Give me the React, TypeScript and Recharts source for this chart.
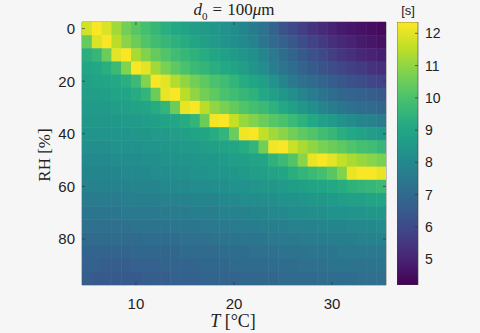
import { ScatterChart, Scatter, XAxis, YAxis, ReferenceArea, BarChart, Bar } from 'recharts';

// grid columns (temperature, °C) and rows (relative humidity, %)
const tempC = [5, 6, 7, 8, 9, 10, 11, 12, 13, 14, 15, 16, 17, 18, 19, 20, 21, 22, 23, 24, 25, 26, 27, 28, 29, 30, 31, 32, 33, 34, 35];
const rhLevels = [0, 5, 10, 15, 20, 25, 30, 35, 40, 45, 50, 55, 60, 65, 70, 75, 80, 85, 90, 95];

// time [s], one list per RH row, T = 5..35
const rh0 = [11.8, 12.3, 11.9, 11.2, 10.6, 10.2, 9.9, 9.6, 9.3, 9.1, 8.9, 8.7, 8.6, 8.5, 8.3, 8.1, 7.9, 7.6, 7.3, 6.8, 6.3, 6.0, 5.7, 5.4, 5.2, 5.0, 4.8, 4.7, 4.6, 4.5, 4.4];
const rh5 = [10.4, 11.9, 12.3, 11.5, 10.9, 10.5, 10.1, 9.8, 9.6, 9.4, 9.2, 9.0, 8.8, 8.6, 8.4, 8.2, 8.0, 7.8, 7.4, 7.0, 6.7, 6.4, 6.1, 5.8, 5.6, 5.3, 5.1, 5.0, 4.8, 4.7, 4.6];
const rh10 = [9.3, 9.6, 10.5, 12.0, 12.3, 11.3, 10.8, 10.4, 10.1, 9.8, 9.6, 9.4, 9.2, 9.0, 8.8, 8.6, 8.4, 8.2, 7.9, 7.5, 7.1, 6.8, 6.5, 6.2, 6.0, 5.7, 5.5, 5.3, 5.1, 5.0, 4.9];
const rh15 = [9.0, 9.1, 9.3, 9.7, 10.8, 12.3, 12.0, 11.2, 10.7, 10.3, 10.0, 9.7, 9.5, 9.3, 9.1, 8.9, 8.7, 8.4, 8.1, 7.7, 7.4, 7.1, 6.8, 6.5, 6.3, 6.1, 5.9, 5.7, 5.6, 5.4, 5.3];
const rh20 = [8.8, 8.9, 9.0, 9.1, 9.3, 9.7, 10.8, 12.3, 12.0, 11.4, 11.0, 10.6, 10.3, 10.0, 9.8, 9.5, 9.2, 9.0, 8.7, 8.3, 7.9, 7.5, 7.2, 7.0, 6.8, 6.6, 6.4, 6.2, 6.1, 5.9, 5.8];
const rh25 = [8.7, 8.7, 8.8, 8.9, 9.0, 9.2, 9.5, 10.5, 12.1, 12.3, 11.5, 11.0, 10.6, 10.3, 10.0, 9.8, 9.6, 9.4, 9.1, 8.8, 8.5, 8.2, 7.9, 7.6, 7.3, 7.1, 6.9, 6.8, 6.7, 6.6, 6.5];
const rh30 = [8.6, 8.6, 8.6, 8.7, 8.8, 8.9, 9.0, 9.2, 9.5, 10.5, 12.1, 12.3, 11.5, 11.0, 10.7, 10.4, 10.1, 9.9, 9.7, 9.4, 9.1, 8.8, 8.5, 8.2, 7.9, 7.6, 7.4, 7.2, 7.1, 7.0, 6.9];
const rh35 = [8.5, 8.5, 8.5, 8.5, 8.6, 8.6, 8.7, 8.8, 8.9, 9.0, 9.2, 9.5, 10.5, 12.2, 12.3, 11.6, 11.1, 10.8, 10.5, 10.2, 10.0, 9.7, 9.4, 9.1, 8.8, 8.6, 8.3, 8.1, 7.9, 7.8, 7.6];
const rh40 = [8.4, 8.4, 8.4, 8.4, 8.4, 8.5, 8.5, 8.6, 8.6, 8.7, 8.8, 8.9, 9.0, 9.2, 9.5, 10.5, 12.2, 12.3, 11.6, 11.2, 10.9, 10.6, 10.3, 10.1, 9.8, 9.6, 9.3, 9.1, 8.9, 8.7, 8.6];
const rh45 = [8.2, 8.2, 8.2, 8.3, 8.3, 8.3, 8.4, 8.4, 8.5, 8.5, 8.6, 8.6, 8.7, 8.8, 8.9, 9.0, 9.2, 9.5, 10.6, 12.2, 12.3, 11.7, 11.3, 11.0, 10.7, 10.5, 10.3, 10.1, 9.9, 9.8, 9.6];
const rh50 = [8.0, 8.0, 8.0, 8.1, 8.1, 8.1, 8.2, 8.2, 8.3, 8.3, 8.4, 8.4, 8.5, 8.5, 8.6, 8.7, 8.8, 8.9, 9.0, 9.4, 9.7, 10.1, 10.9, 12.1, 12.3, 12.0, 11.6, 11.3, 11.1, 10.9, 10.7];
const rh55 = [7.9, 7.9, 7.9, 7.9, 8.0, 8.0, 8.0, 8.1, 8.1, 8.2, 8.2, 8.3, 8.3, 8.4, 8.4, 8.5, 8.6, 8.7, 8.8, 8.9, 9.0, 9.3, 9.5, 9.7, 9.9, 10.2, 10.8, 12.1, 12.3, 12.3, 12.1];
const rh60 = [7.8, 7.8, 7.8, 7.8, 7.8, 7.9, 7.9, 7.9, 8.0, 8.0, 8.0, 8.1, 8.1, 8.2, 8.2, 8.3, 8.3, 8.4, 8.5, 8.5, 8.6, 8.7, 8.8, 8.9, 9.0, 9.1, 9.2, 9.4, 9.5, 9.6, 9.7];
const rh65 = [7.6, 7.6, 7.6, 7.6, 7.7, 7.7, 7.7, 7.7, 7.8, 7.8, 7.8, 7.9, 7.9, 7.9, 8.0, 8.0, 8.1, 8.1, 8.2, 8.2, 8.3, 8.3, 8.4, 8.5, 8.5, 8.6, 8.7, 8.8, 8.8, 8.9, 9.0];
const rh70 = [7.4, 7.4, 7.4, 7.4, 7.5, 7.5, 7.5, 7.5, 7.6, 7.6, 7.6, 7.7, 7.7, 7.7, 7.8, 7.8, 7.8, 7.9, 7.9, 8.0, 8.0, 8.1, 8.1, 8.2, 8.2, 8.3, 8.3, 8.4, 8.4, 8.5, 8.5];
const rh75 = [7.2, 7.2, 7.2, 7.2, 7.2, 7.3, 7.3, 7.3, 7.3, 7.4, 7.4, 7.4, 7.5, 7.5, 7.5, 7.6, 7.6, 7.6, 7.7, 7.7, 7.7, 7.8, 7.8, 7.8, 7.9, 7.9, 7.9, 8.0, 8.0, 8.0, 8.1];
const rh80 = [7.0, 7.0, 7.0, 7.0, 7.0, 7.0, 7.1, 7.1, 7.1, 7.1, 7.2, 7.2, 7.2, 7.3, 7.3, 7.3, 7.4, 7.4, 7.4, 7.5, 7.5, 7.5, 7.6, 7.6, 7.6, 7.7, 7.7, 7.7, 7.8, 7.8, 7.8];
const rh85 = [6.8, 6.8, 6.8, 6.8, 6.8, 6.9, 6.9, 6.9, 6.9, 6.9, 7.0, 7.0, 7.0, 7.0, 7.1, 7.1, 7.1, 7.2, 7.2, 7.2, 7.3, 7.3, 7.3, 7.4, 7.4, 7.4, 7.5, 7.5, 7.5, 7.5, 7.5];
const rh90 = [6.7, 6.7, 6.6, 6.6, 6.6, 6.7, 6.7, 6.7, 6.8, 6.8, 6.8, 6.8, 6.9, 6.9, 6.9, 7.0, 7.0, 7.0, 7.0, 7.1, 7.1, 7.1, 7.2, 7.2, 7.2, 7.3, 7.3, 7.3, 7.3, 7.3, 7.3];
const rh95 = [6.6, 6.5, 6.5, 6.5, 6.5, 6.5, 6.6, 6.6, 6.6, 6.7, 6.7, 6.7, 6.8, 6.8, 6.8, 6.8, 6.9, 6.9, 6.9, 6.9, 7.0, 7.0, 7.0, 7.0, 7.1, 7.1, 7.1, 7.1, 7.2, 7.2, 7.2];

const rowsByRh = [rh0, rh5, rh10, rh15, rh20, rh25, rh30, rh35, rh40, rh45, rh50, rh55, rh60, rh65, rh70, rh75, rh80, rh85, rh90, rh95];

const xTicks = [10, 20, 30];
const yTicks = [0, 20, 40, 60, 80];
const cbTicks = [5, 6, 7, 8, 9, 10, 11, 12];
const cbRange = [4.2, 12.35];

const viridis = ['#440154', '#482475', '#414487', '#355f8d', '#2a788e', '#21918c', '#22a884', '#44bf70', '#7ad151', '#bddf26', '#fde725'];

// plot box in page pixels
const PLOT_L = 82;
const PLOT_R = 386;
const PLOT_T = 22;
const PLOT_B = 285;
const cellW = (PLOT_R - PLOT_L) / tempC.length;
const cellH = (PLOT_B - PLOT_T) / rhLevels.length;
const CB_W = 21;
const TICK_IN = 3;

const hexRgb = (h: string) => [1, 3, 5].map((i) => parseInt(h.slice(i, i + 2), 16));

function colorFor(v: number) {
  let t = (v - cbRange[0]) / (cbRange[1] - cbRange[0]);
  t = Math.max(0, Math.min(1, t)) * (viridis.length - 1);
  const lo = Math.min(Math.floor(t), viridis.length - 2);
  const f = t - lo;
  const a = hexRgb(viridis[lo]);
  const b = hexRgb(viridis[lo + 1]);
  const c = a.map((x, k) => Math.round(x + (b[k] - x) * f));
  return `rgb(${c[0]},${c[1]},${c[2]})`;
}

const cells = rhLevels.flatMap((rh, i) => tempC.map((t, j) => ({ t, rh, v: rowsByRh[i][j] })));

const HeatCell = (props: any) => {
  const { cx, cy, payload } = props;
  return (
    <rect
      x={cx - cellW / 2}
      y={cy - cellH / 2}
      width={cellW + 0.5}
      height={cellH + 0.5}
      fill={colorFor(payload.v)}
    />
  );
};

const sans = '"Liberation Sans", Arial, sans-serif';
const serif = '"Liberation Serif", "Times New Roman", serif';
const INK = '#222';

const XTick = (props: any) => {
  const { x, y, payload } = props;
  return (
    <g>
      <line x1={x} x2={x} y1={PLOT_B} y2={PLOT_B - TICK_IN} stroke="#333" strokeWidth={0.7} />
      <line x1={x} x2={x} y1={PLOT_T} y2={PLOT_T + TICK_IN} stroke="#333" strokeWidth={0.7} />
      <text x={x} y={y} dy="0.71em" textAnchor="middle" fontSize={15} fill={INK} fontFamily={sans}>
        {payload.value}
      </text>
    </g>
  );
};

const YTick = (props: any) => {
  const { x, y, payload } = props;
  return (
    <g>
      <line x1={PLOT_L} x2={PLOT_L + TICK_IN} y1={y} y2={y} stroke="#333" strokeWidth={0.7} />
      <line x1={PLOT_R} x2={PLOT_R - TICK_IN} y1={y} y2={y} stroke="#333" strokeWidth={0.7} />
      <text x={x} y={y} dy="0.355em" textAnchor="end" fontSize={15} fill={INK} fontFamily={sans}>
        {payload.value}
      </text>
    </g>
  );
};

const CbTick = (props: any) => {
  const { x, y, payload } = props;
  return (
    <g>
      <line x1={CB_W} x2={CB_W - TICK_IN} y1={y} y2={y} stroke="#333" strokeWidth={0.7} />
      <text x={x} y={y} dy="0.355em" textAnchor="start" fontSize={14} fill={INK} fontFamily={sans}>
        {payload.value}
      </text>
    </g>
  );
};

export default function App() {
  return (
    <div style={{ position: 'absolute', left: 0, top: 0, width: 480, height: 333, background: '#f6f6f6', overflow: 'hidden' }}>
      <div style={{ position: 'absolute', left: 0, top: 0 }}>
        <ScatterChart width={480} height={333} margin={{ top: PLOT_T, right: 480 - PLOT_R, bottom: 18, left: 22 }}>
          <XAxis
            type="number"
            dataKey="t"
            domain={[4.5, 35.5]}
            ticks={xTicks}
            interval={0}
            height={333 - PLOT_B - 18}
            tickLine={false}
            axisLine={false}
            tickMargin={7}
            tick={<XTick />}
            allowDataOverflow
          />
          <YAxis
            type="number"
            dataKey="rh"
            domain={[-2.5, 97.5]}
            reversed
            ticks={yTicks}
            interval={0}
            width={PLOT_L - 22}
            tickLine={false}
            axisLine={false}
            tickMargin={1}
            tick={<YTick />}
            allowDataOverflow
          />
          <Scatter data={cells} shape={HeatCell} isAnimationActive={false} />
          <ReferenceArea x1={4.5} x2={35.5} y1={-2.5} y2={97.5} fill="none" stroke="#444" strokeWidth={0.6} />
        </ScatterChart>
      </div>

      <div style={{ position: 'absolute', left: 397, top: 0 }}>
        <BarChart
          width={83}
          height={333}
          data={[{ k: 'cb', span: cbRange }]}
          margin={{ top: PLOT_T, right: 0, bottom: 333 - PLOT_B, left: 0 }}
          barCategoryGap={0}
        >
          <defs>
            <linearGradient id="cbGrad" x1="0" y1="1" x2="0" y2="0">
              {viridis.map((c, i) => (
                <stop key={c} offset={`${(i * 100) / (viridis.length - 1)}%`} stopColor={c} />
              ))}
            </linearGradient>
          </defs>
          <XAxis dataKey="k" hide />
          <YAxis
            orientation="right"
            type="number"
            domain={cbRange}
            ticks={cbTicks}
            interval={0}
            width={83 - CB_W}
            tickLine={false}
            axisLine={false}
            tickMargin={1}
            tick={<CbTick />}
            allowDataOverflow
          />
          <Bar dataKey="span" fill="url(#cbGrad)" stroke="#444" strokeWidth={0.6} isAnimationActive={false} />
        </BarChart>
      </div>

      <div style={{ position: 'absolute', left: 234, top: 11, transform: 'translate(-50%,-50%)', fontFamily: serif, fontSize: 17, color: INK, whiteSpace: 'nowrap' }}>
        <i>d</i><sub style={{ fontSize: 11 }}>0</sub>
        <span style={{ margin: '0 5px' }}>=</span>100<i>μ</i>m
      </div>
      <div style={{ position: 'absolute', left: 408, top: 10, transform: 'translate(-50%,-50%)', fontFamily: sans, fontSize: 13, color: INK }}>
        [s]
      </div>
      <div style={{ position: 'absolute', left: 45, top: 155, transform: 'translate(-50%,-50%) rotate(-90deg)', fontFamily: serif, fontSize: 17, color: INK, whiteSpace: 'nowrap' }}>
        RH [%]
      </div>
      <div style={{ position: 'absolute', left: 233, top: 321, transform: 'translate(-50%,-50%)', fontFamily: serif, fontSize: 18, color: INK, whiteSpace: 'nowrap' }}>
        <i>T</i> [°C]
      </div>
    </div>
  );
}
